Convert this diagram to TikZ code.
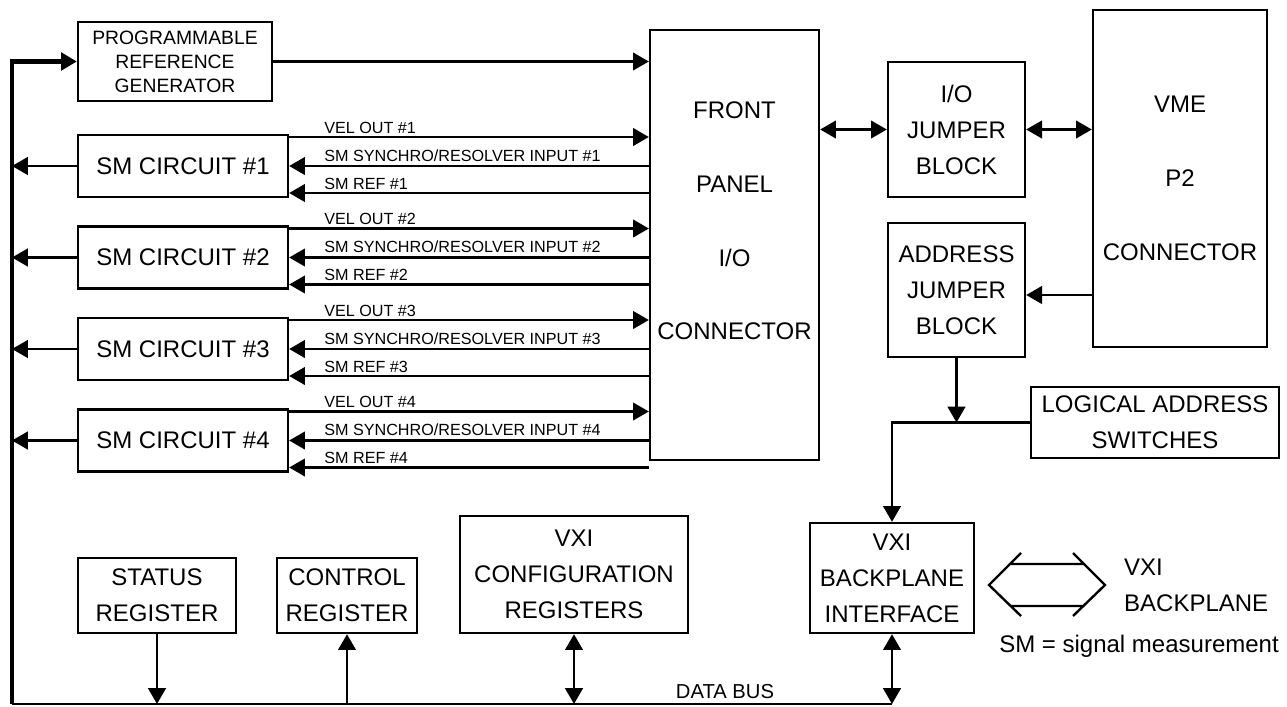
\documentclass[tikz,border=0pt]{standalone}
\usepackage{fontspec}
\setmainfont{Liberation Sans}
\usetikzlibrary{arrows.meta,positioning,calc}

\begin{document}
\begin{tikzpicture}[x=0.02cm,y=-0.02cm,line width=1.35pt,
  >={Triangle[length=9pt,width=10pt]},
  blk/.style={draw,rectangle,align=center,inner sep=0pt,font=\fontsize{13.66}{20.5}\selectfont},
  tall/.style={font=\fontsize{13.66}{42}\selectfont},
  lbl/.style={anchor=base west,inner sep=0pt,font=\fontsize{9.2}{11}\selectfont},
  txt/.style={inner sep=0pt,align=center,font=\fontsize{13.66}{20.5}\selectfont},
  bus/.style={line width=2.7pt}]
\useasboundingbox (0,0) rectangle (1287,706);

\node[blk,font=\fontsize{11}{13.7}\selectfont,minimum width=3.88cm,minimum height=1.58cm] (gen) at (175,61.5) {PROGRAMMABLE\\REFERENCE\\GENERATOR};
\node[blk,minimum width=3.38cm,minimum height=8.6cm] (fp) at (734.5,245) {};
\node[txt,tall] (fptxt) at (734.5,221) {FRONT\\PANEL\\I/O\\CONNECTOR};
\node[blk,minimum width=2.74cm,minimum height=2.7cm] (ioj) at (956.5,129.5) {I/O\\JUMPER\\BLOCK};
\node[blk,tall,minimum width=3.48cm,minimum height=6.74cm] (vme) at (1180,178.5) {VME\\P2\\CONNECTOR};
\node[blk,minimum width=2.74cm,minimum height=2.68cm] (ajb) at (956.5,290) {ADDRESS\\JUMPER\\BLOCK};
\node[blk,minimum width=4.96cm,minimum height=1.42cm] (las) at (1155,422.5) {LOGICAL ADDRESS\\SWITCHES};
\node[blk,minimum width=3.28cm,minimum height=2.2cm] (vbi) at (892,578) {VXI\\BACKPLANE\\INTERFACE};
\node[blk,minimum width=4.56cm,minimum height=2.34cm] (cfg) at (574,574.5) {VXI\\CONFIGURATION\\REGISTERS};
\node[blk,minimum width=3.16cm,minimum height=1.5cm] (stat) at (157,595.5) {STATUS\\REGISTER};
\node[blk,minimum width=2.8cm,minimum height=1.5cm] (ctrl) at (347,595.5) {CONTROL\\REGISTER};

\node[blk,minimum width=4.2cm,minimum height=1.24cm] (sm1) at (183,166) {SM CIRCUIT \#1};
\node[blk,minimum width=4.2cm,minimum height=1.24cm] (sm2) at (183,257.5) {SM CIRCUIT \#2};
\node[blk,minimum width=4.2cm,minimum height=1.24cm] (sm3) at (183,349) {SM CIRCUIT \#3};
\node[blk,minimum width=4.2cm,minimum height=1.24cm] (sm4) at (183,440.5) {SM CIRCUIT \#4};

% data bus
\coordinate (bl) at (12,704);
\draw[bus,->] (bl) |- (gen.west);
\draw (bl) -- (vbi.south |- bl);
\node[inner sep=0pt,font=\fontsize{11.5}{13}\selectfont] (dbus) at (725,692) {DATA BUS};

\draw[->] (gen.east) -- (gen.east -| fp.west);

% circuit 1
\coordinate (v1) at ($(sm1.east)+(0,-29)$);
\coordinate (r1) at ($(sm1.east)+(0,27)$);
\draw[->] (v1) -- (v1 -| fp.west);
\draw[<-] (sm1.east) -- (sm1.east -| fp.west);
\draw[<-] (r1) -- (r1 -| fp.west);
\draw[->] (sm1.west) -- (sm1.west -| bl);
\node[lbl] (l1a) at ($(v1)+(34,-4)$) {VEL OUT \#1};
\node[lbl] (l1b) at ($(sm1.east)+(34,-5)$) {SM SYNCHRO/RESOLVER INPUT \#1};
\node[lbl] (l1c) at ($(r1)+(34,-4)$) {SM REF \#1};
% circuit 2
\coordinate (v2) at ($(sm2.east)+(0,-29)$);
\coordinate (r2) at ($(sm2.east)+(0,27)$);
\draw[->] (v2) -- (v2 -| fp.west);
\draw[<-] (sm2.east) -- (sm2.east -| fp.west);
\draw[<-] (r2) -- (r2 -| fp.west);
\draw[->] (sm2.west) -- (sm2.west -| bl);
\node[lbl] (l2a) at ($(v2)+(34,-4)$) {VEL OUT \#2};
\node[lbl] (l2b) at ($(sm2.east)+(34,-5)$) {SM SYNCHRO/RESOLVER INPUT \#2};
\node[lbl] (l2c) at ($(r2)+(34,-4)$) {SM REF \#2};
% circuit 3
\coordinate (v3) at ($(sm3.east)+(0,-29)$);
\coordinate (r3) at ($(sm3.east)+(0,27)$);
\draw[->] (v3) -- (v3 -| fp.west);
\draw[<-] (sm3.east) -- (sm3.east -| fp.west);
\draw[<-] (r3) -- (r3 -| fp.west);
\draw[->] (sm3.west) -- (sm3.west -| bl);
\node[lbl] (l3a) at ($(v3)+(34,-4)$) {VEL OUT \#3};
\node[lbl] (l3b) at ($(sm3.east)+(34,-5)$) {SM SYNCHRO/RESOLVER INPUT \#3};
\node[lbl] (l3c) at ($(r3)+(34,-4)$) {SM REF \#3};
% circuit 4
\coordinate (v4) at ($(sm4.east)+(0,-29)$);
\coordinate (r4) at ($(sm4.east)+(0,27)$);
\draw[->] (v4) -- (v4 -| fp.west);
\draw[<-] (sm4.east) -- (sm4.east -| fp.west);
\draw[<-] (r4) -- (r4 -| fp.west);
\draw[->] (sm4.west) -- (sm4.west -| bl);
\node[lbl] (l4a) at ($(v4)+(34,-4)$) {VEL OUT \#4};
\node[lbl] (l4b) at ($(sm4.east)+(34,-5)$) {SM SYNCHRO/RESOLVER INPUT \#4};
\node[lbl] (l4c) at ($(r4)+(34,-4)$) {SM REF \#4};

% right side
\draw[<->] (fp.east |- ioj.west) -- (ioj.west);
\draw[<->] (ioj.east) -- (ioj.east -| vme.west);
\draw[->] (vme.west |- 0,295) -- (ajb.east |- 0,295);
\draw[->] (ajb.south) -- (ajb.south |- las.west);
\draw[->] (las.west) -| (vbi.north);

% registers on the bus
\draw[->] (stat.south) -- (stat.south |- bl);
\draw[->] (ctrl.south |- bl) -- (ctrl.south);
\draw[<->] (cfg.south) -- (cfg.south |- bl);
\draw[<->] (vbi.south) -- (vbi.south |- bl);

% backplane symbol
\draw (1021,553) -- (989,585) -- (1021,616)
      (1073,553) -- (1105,585) -- (1073,616)
      (1010,564) -- (1084,564)
      (1010,606) -- (1084,606);
\node[txt,align=left,anchor=west] (bptxt) at (1123,585) {VXI\\BACKPLANE};
\node[txt] (smnote) at (1139,646) {SM = signal measurement};
\end{tikzpicture}
\end{document}
